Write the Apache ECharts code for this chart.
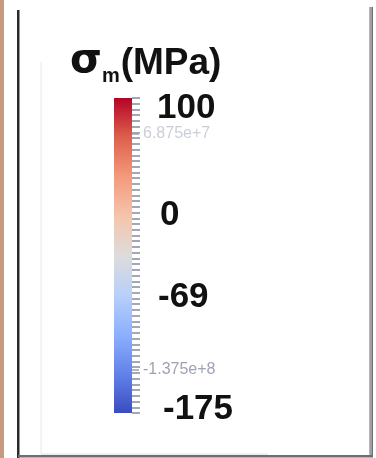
<!DOCTYPE html>
<html><head><meta charset="utf-8">
<script src="https://cdn.jsdelivr.net/npm/echarts@6/dist/echarts.min.js"></script>
<style>html,body{margin:0;padding:0;background:#fff}#c{width:376px;height:458px}</style>
</head><body><div id="c"></div>
<script>
// ---- data ----
const colorbarRange = [-175, 100];           // MPa, bottom -> top
const minorTickStep = 5;                     // MPa between small ticks
const mainTickValues = [100, 0, -69, -175];  // big bold labels
const sciTickValues = [68.75, -137.5];       // faded labels (Pa)
const sciTickLabels = ['6.875e+7', '-1.375e+8'];
const coolwarmStops = ['#3b4cc0', '#6282ea', '#8db0fe', '#b8d0f9', '#dddcdc', '#f5c4ac', '#f49a7b', '#de604d', '#b40426'];

const chart = echarts.init(document.getElementById('c'), null, {renderer: 'canvas'});

const gradStops = coolwarmStops.map((c, i) => ({offset: i / (coolwarmStops.length - 1), color: c}));

const baseLab = {fontSize: 35, fontWeight: 'bold', color: '#111', fontFamily: 'Liberation Sans'};
const richMain = {
  top: Object.assign({}, baseLab, {padding: [20, 0, 0, 0]}),
  zero: Object.assign({}, baseLab, {padding: [5, 0, 0, 3]}),
  mid: Object.assign({}, baseLab, {padding: [12, 0, 0, 1]}),
  bot: Object.assign({}, baseLab, {padding: [0, 0, 8, 6]})
};

chart.setOption({
  animation: false,
  backgroundColor: '#fff',
  title: {
    text: '{s|σ}{m|m}{p|(MPa)}',
    left: 65, top: 36,
    textStyle: {
      rich: {
        s: {fontSize: 41, fontWeight: 'bold', color: '#111', fontFamily: 'DejaVu Sans', verticalAlign: 'bottom', padding: [0, 0, 4, 0]},
        m: {fontSize: 20, fontWeight: 'bold', color: '#111', fontFamily: 'Liberation Sans', verticalAlign: 'bottom', padding: [0, 1, 0, 0]},
        p: {fontSize: 37, fontWeight: 'bold', color: '#111', fontFamily: 'Liberation Sans', verticalAlign: 'bottom', padding: [0, 0, 4, 0]}
      }
    }
  },
  graphic: [
    {type: 'rect', shape: {x: 0, y: 0, width: 4, height: 458}, style: {fill: '#c69a80'}, silent: true},
    {type: 'rect', shape: {x: 17, y: 10, width: 2.5, height: 448}, style: {fill: '#2a2a2e'}, silent: true},
    {type: 'rect', shape: {x: 369.5, y: 7, width: 3.5, height: 449}, style: {fill: '#6e6e72'}, silent: true},
    {type: 'rect', shape: {x: 370.5, y: 7, width: 1, height: 449}, style: {fill: '#d0d0d0'}, silent: true},
    {type: 'rect', shape: {x: 18, y: 455, width: 355, height: 2.5}, style: {fill: '#6e6e72'}, silent: true},
    {type: 'rect', shape: {x: 40.5, y: 62, width: 1.2, height: 392}, style: {fill: '#ececec'}, silent: true},
    {type: 'rect', shape: {x: 41, y: 453.5, width: 227, height: 1.2}, style: {fill: '#e6e6e6'}, silent: true}
  ],
  grid: {left: 114, top: 98, width: 18, height: 315},
  xAxis: {type: 'category', data: ['σm'], show: false, boundaryGap: true},
  yAxis: [
    {
      type: 'value', position: 'right',
      min: colorbarRange[0], max: colorbarRange[1], interval: minorTickStep,
      axisLine: {show: false}, splitLine: {show: false},
      axisTick: {show: true, length: 8, lineStyle: {color: '#8d92a2', width: 1.6}},
      axisLabel: {
        customValues: mainTickValues,
        margin: 25,
        formatter: v => {
          const key = v === colorbarRange[1] ? 'top' : v === colorbarRange[0] ? 'bot' : v === 0 ? 'zero' : 'mid';
          return '{' + key + '|' + v + '}';
        },
        rich: richMain
      }
    },
    {
      type: 'value', position: 'right', offset: -10,
      min: colorbarRange[0], max: colorbarRange[1],
      axisLine: {show: false}, splitLine: {show: false},
      axisTick: {show: true, customValues: sciTickValues, length: 17, lineStyle: {color: '#9aa0b2', width: 1.5}},
      axisLabel: {
        customValues: sciTickValues,
        margin: 21,
        fontSize: 16, fontFamily: 'Liberation Sans',
        formatter: v => sciTickLabels[sciTickValues.indexOf(v)],
        color: v => v > 0 ? 'rgba(160,166,184,0.55)' : '#9ea3b3'
      }
    }
  ],
  series: [{
    type: 'custom',
    yAxisIndex: 0,
    data: [[0, colorbarRange[0], colorbarRange[1]]],
    encode: {x: 0, y: [1, 2]},
    renderItem: (params, api) => {
      const lo = api.coord([api.value(0), api.value(1)]);
      const hi = api.coord([api.value(0), api.value(2)]);
      const w = api.size([1, 0])[0];
      return {
        type: 'rect',
        shape: {x: lo[0] - w / 2, y: hi[1], width: w, height: lo[1] - hi[1]},
        style: {fill: new echarts.graphic.LinearGradient(0, 1, 0, 0, gradStops)}
      };
    }
  }]
});
</script></body></html>
